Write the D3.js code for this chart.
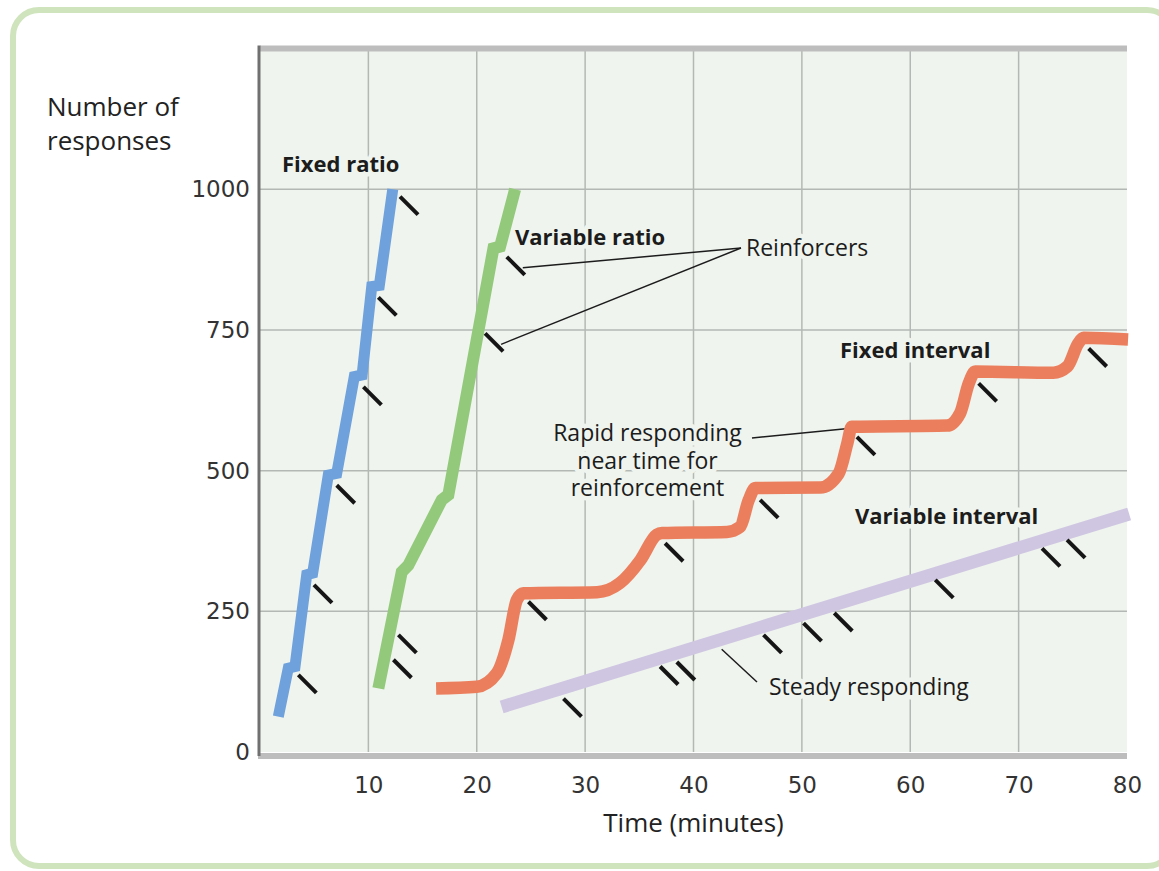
<!DOCTYPE html>
<html>
<head>
<meta charset="utf-8">
<script src="https://cdn.jsdelivr.net/npm/d3@7"></script>
<style>
  html, body { margin: 0; padding: 0; background: #ffffff; }
  svg { display: block; }
</style>
</head>
<body>
<div id="chart"></div>
<script>
// Reinforcement schedules - cumulative responses over time

// axis ticks
const xTicks = [10, 20, 30, 40, 50, 60, 70, 80];
const yTicks = [0, 250, 500, 750, 1000];
const xGrid = [10, 20, 30, 40, 50, 60, 70];
const yGrid = [250, 500, 750, 1000];

// cumulative records: [minutes, responses]
const fixedRatio = [[1.69, 63], [2.61, 149], [3.23, 152], [4.31, 315], [4.86, 318], [6.30, 492],
  [7.08, 495], [8.70, 667], [9.42, 670], [10.31, 827], [11.01, 829], [12.25, 1000]];
const variableRatio = [[10.92, 113], [13.08, 320], [13.69, 332], [16.77, 448], [17.38, 457],
  [21.54, 895], [22.15, 898], [23.54, 1000]];
const fixedInterval = [[16.25, 113], [20.0, 116], [21.85, 140], [22.92, 199], [23.7, 270], [24.3, 282],
  [31.1, 284], [33.2, 300], [35.1, 341], [36.6, 386], [37.1, 389], [43.1, 391], [44.3, 400],
  [45.1, 448], [45.7, 469], [51.7, 470], [53.4, 495], [54.2, 549], [54.6, 578], [63.4, 580],
  [64.6, 602], [65.4, 655], [66.0, 676], [73.2, 674], [74.5, 685], [75.5, 726], [76.0, 736], [80.1, 733]];
const variableInterval = [[22.3, 80], [80.2, 423]];

// reinforcer marks: [minutes, responses]
const fixedRatioReinforcers = [[3.54, 137], [4.98, 297], [7.08, 474], [9.54, 649], [10.92, 808], [12.92, 987]];
const variableRatioReinforcers = [[12.31, 164], [12.77, 208], [20.77, 744], [22.77, 880]];
const fixedIntervalReinforcers = [[24.77, 267], [37.38, 371], [46.15, 448], [55.08, 560], [66.31, 655], [76.46, 717]];
const variableIntervalReinforcers = [[28.0, 95], [36.92, 152], [38.46, 160], [46.46, 208], [50.15, 229],
  [52.99, 247], [62.31, 306], [72.16, 362], [74.47, 377]];

const W = 1159, H = 871;
const plotBg = '#eff4ee';
const sansFont = "'Open Sans', 'Noto Sans', sans-serif";
const numFont = "'DejaVu Sans', Verdana, sans-serif";

const svg = d3.select('#chart').append('svg')
  .attr('width', W)
  .attr('height', H);

// outer frame
svg.append('rect')
  .attr('x', 13).attr('y', 10)
  .attr('width', 1160).attr('height', 856)
  .attr('rx', 26).attr('ry', 26)
  .attr('fill', '#ffffff')
  .attr('stroke', '#cfe4bd')
  .attr('stroke-width', 6);

// scales
const x = d3.scaleLinear().domain([0, 80]).range([260, 1127]);
const y = d3.scaleLinear().domain([0, 1250]).range([752, 48.6]);

// plot background
svg.append('rect')
  .attr('x', x(0)).attr('y', y(1250))
  .attr('width', x(80) - x(0)).attr('height', y(0) - y(1250))
  .attr('fill', plotBg);

// grid
const grid = svg.append('g').attr('stroke', '#b4b8b4').attr('stroke-width', 1.5);
grid.selectAll('.vg').data(xGrid).enter().append('line')
  .attr('x1', d => x(d)).attr('x2', d => x(d))
  .attr('y1', y(1250)).attr('y2', y(0));
grid.selectAll('.hg').data(yGrid).enter().append('line')
  .attr('x1', x(0)).attr('x2', x(80))
  .attr('y1', d => y(d)).attr('y2', d => y(d));

// top and bottom bands, left axis
svg.append('line')
  .attr('x1', x(0)).attr('x2', x(80))
  .attr('y1', y(1250)).attr('y2', y(1250))
  .attr('stroke', '#bdbdbd').attr('stroke-width', 6);
svg.append('line')
  .attr('x1', x(0) - 2).attr('x2', x(80))
  .attr('y1', y(0) + 4).attr('y2', y(0) + 4)
  .attr('stroke', '#bdbdbd').attr('stroke-width', 6);
svg.append('line')
  .attr('x1', x(0) - 1).attr('x2', x(0) - 1)
  .attr('y1', y(1250) - 3).attr('y2', y(0) + 4)
  .attr('stroke', '#707070').attr('stroke-width', 3);

// axes (labels only)
const xAxis = svg.append('g')
  .attr('transform', `translate(0,${y(0)})`)
  .call(d3.axisBottom(x).tickValues(xTicks).tickFormat(d3.format('d')).tickSize(0).tickPadding(25));
xAxis.select('.domain').remove();
xAxis.selectAll('text')
  .attr('font-family', numFont).attr('font-size', 23).attr('fill', '#333');

const yAxis = svg.append('g')
  .attr('transform', `translate(${x(0)},0)`)
  .call(d3.axisLeft(y).tickValues(yTicks).tickFormat(d3.format('d')).tickSize(0).tickPadding(10));
yAxis.select('.domain').remove();
yAxis.selectAll('text')
  .attr('font-family', numFont).attr('font-size', 23).attr('fill', '#333');

// axis titles
const yTitle = svg.append('text')
  .attr('font-family', sansFont).attr('font-size', 26).attr('fill', '#222');
yTitle.append('tspan').attr('x', 47).attr('y', 116).text('Number of');
yTitle.append('tspan').attr('x', 47).attr('y', 150).text('responses');

svg.append('text')
  .attr('x', (x(0) + x(80)) / 2).attr('y', 832)
  .attr('text-anchor', 'middle')
  .attr('font-family', sansFont).attr('font-size', 26).attr('fill', '#222')
  .text('Time (minutes)');

// annotation text with background halo
function note(px, py, lines, bold, anchor) {
  const t = svg.append('text')
    .attr('font-family', sansFont)
    .attr('font-size', bold ? 22 : 23)
    .attr('font-weight', bold ? 700 : 400)
    .attr('fill', '#1c1c1c')
    .attr('text-anchor', anchor || 'start')
    .attr('stroke', plotBg).attr('stroke-width', 9)
    .attr('stroke-linejoin', 'round')
    .attr('paint-order', 'stroke');
  lines.forEach((s, i) => {
    t.append('tspan').attr('x', px).attr('y', py + i * 27.5).text(s);
  });
}

note(282, 172, ['Fixed ratio'], true);
note(515, 245, ['Variable ratio'], true);
note(746, 256, ['Reinforcers'], false);
note(840, 358, ['Fixed interval'], true);
note(647.5, 441, ['Rapid responding', 'near time for', 'reinforcement'], false, 'middle');
note(855, 524, ['Variable interval'], true);
note(769, 695, ['Steady responding'], false);

// leader lines
const leaders = svg.append('g').attr('stroke', '#1c1c1c').attr('stroke-width', 1.5).attr('fill', 'none');
const meet = [741, 248];
variableRatioReinforcers.slice(2).forEach(d => {
  leaders.append('line')
    .attr('x1', meet[0]).attr('y1', meet[1])
    .attr('x2', x(d[0]) + 16).attr('y2', y(d[1]) + 11);
});
const fiCorner = fixedInterval[18];
leaders.append('line')
  .attr('x1', 752).attr('y1', 438)
  .attr('x2', x(fiCorner[0]) - 6).attr('y2', y(fiCorner[1]) + 2);
const viAt = 42.6;
const viY = variableInterval[0][1] + (viAt - variableInterval[0][0]) *
  (variableInterval[1][1] - variableInterval[0][1]) / (variableInterval[1][0] - variableInterval[0][0]);
leaders.append('line')
  .attr('x1', x(viAt)).attr('y1', y(viY) + 10)
  .attr('x2', 757).attr('y2', 682);

// series
const series = [
  { data: fixedRatio, color: '#6fa1dc', width: 11, curve: d3.curveLinear, join: 'miter' },
  { data: variableRatio, color: '#93c97a', width: 12, curve: d3.curveLinear, join: 'miter' },
  { data: fixedInterval, color: '#eb7f5d', width: 12.5, curve: d3.curveMonotoneX, join: 'round' },
  { data: variableInterval, color: '#cfc6e2', width: 13, curve: d3.curveLinear, join: 'miter' }
];

series.forEach(s => {
  const line = d3.line().x(d => x(d[0])).y(d => y(d[1])).curve(s.curve);
  svg.append('path')
    .datum(s.data)
    .attr('d', line)
    .attr('fill', 'none')
    .attr('stroke', s.color)
    .attr('stroke-width', s.width)
    .attr('stroke-linejoin', s.join)
    .attr('stroke-miterlimit', 3)
    .attr('stroke-linecap', 'butt');
});

// reinforcer ticks
const allReinforcers = [].concat(fixedRatioReinforcers, variableRatioReinforcers,
  fixedIntervalReinforcers, variableIntervalReinforcers);
svg.append('g').selectAll('line')
  .data(allReinforcers)
  .enter().append('line')
  .attr('x1', d => x(d[0])).attr('y1', d => y(d[1]))
  .attr('x2', d => x(d[0]) + 18).attr('y2', d => y(d[1]) + 18)
  .attr('stroke', '#151515')
  .attr('stroke-width', 4);
</script>
</body>
</html>
